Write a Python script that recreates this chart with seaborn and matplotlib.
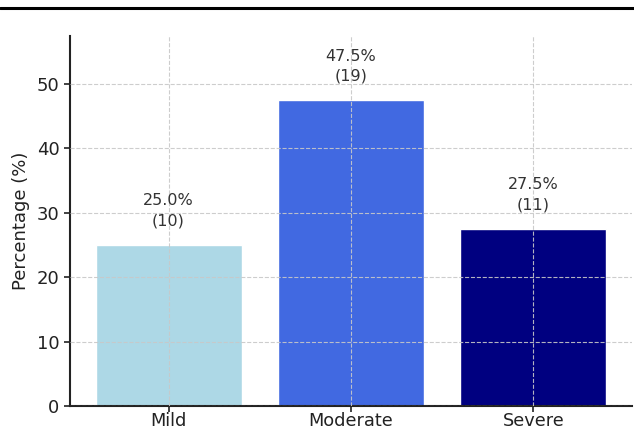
import matplotlib
matplotlib.use("Agg")
import matplotlib.pyplot as plt
from matplotlib.lines import Line2D
import seaborn as sns
import pandas as pd

categories = ["Mild", "Moderate", "Severe"]
percentages = [25.0, 47.5, 27.5]
counts = [10, 19, 11]
colors = ["lightblue", "royalblue", "navy"]

sns.set_style("white")
plt.rcParams["font.family"] = ["DejaVu Sans"]

df = pd.DataFrame({"Severity": categories, "Percentage": percentages})

fig = plt.figure(figsize=(6.34, 4.30), dpi=100)
ax = fig.add_axes([70 / 634, 24 / 430, 562 / 634, 370.3 / 430])

sns.barplot(data=df, x="Severity", y="Percentage", hue="Severity",
            palette=colors, order=categories, hue_order=categories,
            saturation=1, width=0.8, legend=False, ax=ax, zorder=1)

ax.set_xlim(-0.54, 2.54)
ax.set_ylim(0, max(percentages) + 10)
ax.set_yticks([0, 10, 20, 30, 40, 50])

ax.grid(True, linestyle="--", color="#c8c8c8", linewidth=0.8, alpha=0.9)
ax.set_axisbelow(False)
for line in ax.get_xgridlines() + ax.get_ygridlines():
    line.set_zorder(3)

for i, (p, c) in enumerate(zip(percentages, counts)):
    ax.text(i, p + 2.6, f"{p:.1f}%\n({c})", ha="center", va="bottom",
            fontsize=11.5, color="#333333", zorder=4, linespacing=1.4)

ax.set_xlabel("")
ax.set_ylabel("Percentage (%)", fontsize=13, color="#222222", labelpad=5)
ax.tick_params(axis="both", labelsize=13, colors="#222222", length=4, width=1.2,
               direction="out", left=True, bottom=True)
ax.tick_params(axis="x", pad=0.3, labelsize=12.8)

for s in ["top", "right"]:
    ax.spines[s].set_visible(False)
for s in ["left", "bottom"]:
    ax.spines[s].set_linewidth(1.5)
    ax.spines[s].set_color("#222222")

fig.add_artist(Line2D([0, 1], [1 - 8 / 430, 1 - 8 / 430], color="black",
                      linewidth=2.2, transform=fig.transFigure))

fig.savefig("out.png", dpi=100)
